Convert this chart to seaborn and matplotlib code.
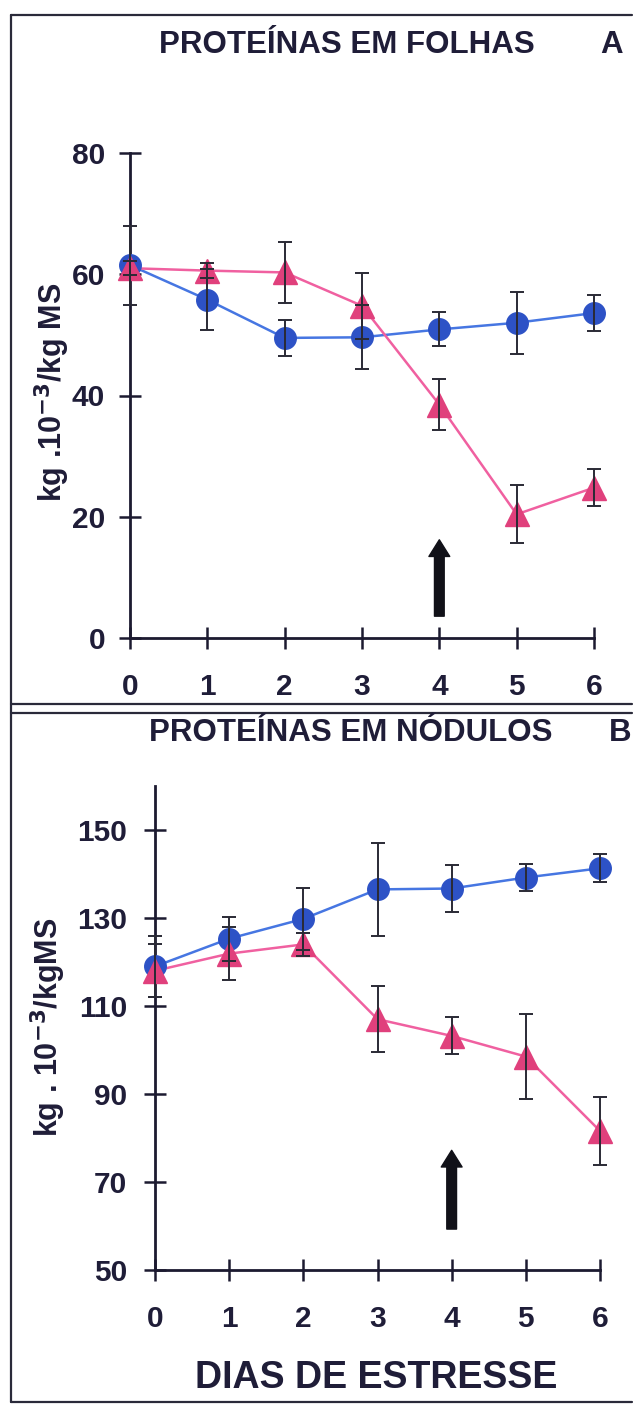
import numpy as np
import pandas as pd
import matplotlib
matplotlib.use("Agg")
import matplotlib.pyplot as plt
from matplotlib.lines import Line2D
import seaborn as sns

# Days of water stress
dias = [0, 1, 2, 3, 4, 5, 6]

# A: leaf proteins (kg.10^-3/kg MS)
folhas_controle = [61.5, 55.8, 49.5, 49.6, 50.9, 52.0, 53.6]
folhas_controle_erro = [6.5, 5.0, 3.0, 5.3, 2.8, 5.1, 3.0]
folhas_estresse = [61.0, 60.6, 60.3, 54.8, 38.5, 20.4, 24.8]
folhas_estresse_erro = [1.2, 1.3, 5.0, 5.4, 4.2, 4.8, 3.1]

# B: nodule proteins (kg.10^-3/kgMS)
nodulos_controle = [119.0, 125.3, 129.8, 136.5, 136.7, 139.2, 141.3]
nodulos_controle_erro = [7.0, 5.0, 7.0, 10.6, 5.4, 3.0, 3.2]
nodulos_estresse = [118.0, 121.9, 124.0, 107.0, 103.2, 98.5, 81.6]
nodulos_estresse_erro = [6.0, 6.0, 2.6, 7.5, 4.2, 9.7, 7.8]

yticks_a = [0, 20, 40, 60, 80]
yticks_b = [50, 70, 90, 110, 130, 150]

W, H = 633, 1406
TXT = "#1f1d38"
AX = "#1c1a30"
AZUL_M, AZUL_L = "#2d52c6", "#4676e2"
ROSA_M, ROSA_L = "#e0407c", "#f060a0"

sns.set_theme(style="white")
plt.rcParams["font.family"] = ["Liberation Sans", "DejaVu Sans"]
plt.rcParams["font.weight"] = "bold"
plt.rcParams["mathtext.default"] = "bf"

fig = plt.figure(figsize=(W / 100, H / 100), dpi=100)
fig.patch.set_facecolor("white")


def px_axes(left, right, top, bottom):
    return fig.add_axes([left / W, 1 - bottom / H, (right - left) / W, (bottom - top) / H])


def painel(ax, ctrl, ctrl_e, est, est_e, ylim, ybounds, yticks, ypad):
    df = pd.DataFrame({
        "dia": dias * 2,
        "valor": ctrl + est,
        "grupo": ["controle"] * 7 + ["estresse"] * 7,
    })
    sns.lineplot(data=df, x="dia", y="valor", hue="grupo",
                 palette={"controle": AZUL_L, "estresse": ROSA_L},
                 linewidth=1.8, legend=False, ax=ax, zorder=2)
    ax.plot(dias, ctrl, ls="none", marker="o", ms=15.5, color=AZUL_M,
            mec=AZUL_M, zorder=3, clip_on=False)
    ax.plot(dias, est, ls="none", marker="^", ms=17, color=ROSA_M,
            mec=ROSA_M, zorder=4, clip_on=False)
    for vals, err in ((ctrl, ctrl_e), (est, est_e)):
        ax.errorbar(dias, vals, yerr=err, fmt="none", ecolor="#2a2a35",
                    elinewidth=1.4, capsize=5, capthick=1.4, zorder=5, clip_on=False)
    ax.set_xlim(-0.45, 6.45)
    ax.set_ylim(*ylim)
    for s in ("top", "right"):
        ax.spines[s].set_visible(False)
    ax.spines["left"].set_position(("data", 0))
    ax.spines["bottom"].set_position(("data", ybounds[0]))
    ax.spines["left"].set_bounds(*ybounds)
    ax.spines["bottom"].set_bounds(0, 6)
    for s in ("left", "bottom"):
        ax.spines[s].set_color(AX)
        ax.spines[s].set_linewidth(2.0)
    ax.set_xticks(dias)
    ax.set_yticks(yticks)
    ax.tick_params(axis="both", direction="inout", length=16, width=1.8,
                   color=AX, labelsize=21.5, labelcolor=TXT,
                   bottom=True, left=True)
    ax.tick_params(axis="x", pad=17)
    ax.tick_params(axis="y", pad=ypad)
    for lab in ax.get_xticklabels() + ax.get_yticklabels():
        lab.set_fontweight("bold")
    ax.set_xlabel("")
    ax.set_ylabel("")
    ax.patch.set_alpha(0)


# Panel A
ax1 = px_axes(130 - 0.45 * 77.33, 594 + 0.45 * 77.33, 153 - 4 * 6.0625, 638 + 4 * 6.0625)
painel(ax1, folhas_controle, folhas_controle_erro, folhas_estresse, folhas_estresse_erro,
       (-4, 84), (0, 80), yticks_a, 10)
ax1.annotate("", xy=(4, 16.2), xytext=(4, 3.6),
             arrowprops=dict(facecolor="#111118", edgecolor="#111118",
                             width=7, headwidth=15, headlength=12))

# Panel B
ax2 = px_axes(155 - 0.45 * 74.17, 600 + 0.45 * 74.17, 830 - 12 * 4.4, 1270 + 5 * 4.4)
painel(ax2, nodulos_controle, nodulos_controle_erro, nodulos_estresse, nodulos_estresse_erro,
       (45, 162), (50, 160), yticks_b, 12)
ax2.annotate("", xy=(4, 77.2), xytext=(4, 59.3),
             arrowprops=dict(facecolor="#111118", edgecolor="#111118",
                             width=7, headwidth=15, headlength=12))


# Titles and axis labels
def ftxt(x, y, s, size, **kw):
    fig.text(x / W, 1 - y / H, s, fontsize=size, fontweight="bold", color=TXT,
             ha=kw.pop("ha", "center"), va=kw.pop("va", "center"), **kw)


ftxt(347, 45, "PROTEÍNAS EM FOLHAS", 22.5)
ftxt(612, 45, "A", 22.5)
ftxt(351, 733, "PROTEÍNAS EM NÓDULOS", 22.5)
ftxt(620, 733, "B", 22.5)
ftxt(52, 392, "kg .10$^{-3}$/kg MS", 22, rotation=90)
ftxt(48, 1027, "kg . 10$^{-3}$/kgMS", 22, rotation=90)
ftxt(376, 1378, "DIAS DE ESTRESSE", 27)

# Frame around both panels
for (x0, y0, x1, y1) in [(11, 15, 632, 15), (11, 15, 11, 1402), (11, 1402, 632, 1402),
                         (11, 704, 632, 704), (11, 713, 632, 713)]:
    fig.add_artist(Line2D([x0 / W, x1 / W], [1 - y0 / H, 1 - y1 / H],
                          color="#2a2a3a", lw=1.6))

fig.savefig("out.png", dpi=100, facecolor="white")
